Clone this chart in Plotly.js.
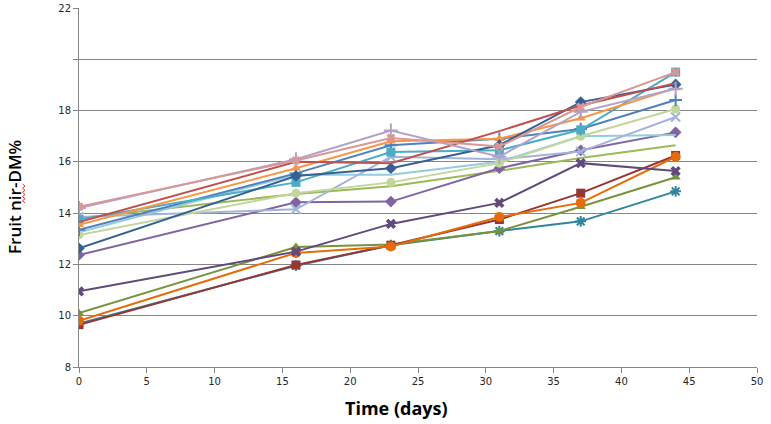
<!DOCTYPE html>
<html>
<head>
<meta charset="utf-8">
<script src="https://cdn.plot.ly/plotly-3.0.1.min.js"></script>
<style>
  html, body { margin: 0; padding: 0; background: #ffffff; }
  #chart { width: 771px; height: 424px; }
</style>
</head>
<body>
<div id="chart"></div>
<script>
// Sampling days
const days = [0, 16, 23, 31, 37, 44];

// Fruit nir-DM% per tree / sample line
const blueDiamond   = [12.63, 15.45, 15.75, 16.65, 18.33, 19.02];
const redLine       = [13.65, 16.00, 15.95, 17.20, 18.20, 19.07];
const orangeTri     = [13.55, 15.75, 16.80, 16.90, 17.70, 18.88];
const aquaSquare    = [13.75, 15.20, 16.38, 16.45, 17.25, 19.50];
const pinkX         = [14.25, 16.05, 16.93, 16.60, 18.14, 19.50];
const lilacPlus     = [14.20, 16.10, 17.22, 16.20, 17.95, 18.85];
const bluePlus      = [13.35, 15.55, 16.65, 16.90, 17.28, 18.41];
const paleGreenDot  = [13.15, 14.78, 15.20, 15.95, 17.00, 18.06];
const periwinkleX   = [13.85, 14.15, 16.20, 16.10, 16.40, 17.75];
const paleCyan      = [13.25, 15.50, 15.50, 16.00, 17.00, 17.05];
const purpleDiamond = [12.37, 14.42, 14.45, 15.75, 16.45, 17.15];
const greenLine     = [13.80, 14.75, 15.05, 15.65, 16.15, 16.65];
const plumX         = [10.95, 12.50, 13.58, 14.40, 15.95, 15.64];
const oliveTri      = [10.10, 12.68, 12.78, 13.30, 14.25, 15.40];
const maroonSquare  = [ 9.65, 11.98, 12.75, 13.75, 14.78, 16.25];
const orangeDot     = [ 9.80, 12.45, 12.70, 13.85, 14.40, 16.20];
const tealStar      = [ 9.70, 11.95, 12.75, 13.30, 13.68, 14.85];

// y-axis tick labels (the 20 line carries no label)
const yTickVals = [8, 10, 12, 14, 16, 18, 20];
const yTickText = ['8', '10', '12', '14', '16', '18', ''];
const yTopVal = [22];
const yTopText = ['22'];

function series(y, color, symbol, size, lineMarker) {
  return {
    x: days, y: y, type: 'scatter', mode: 'lines+markers',
    line: { color: color, width: 2 },
    marker: {
      color: color, symbol: symbol, size: size,
      line: { color: color, width: lineMarker ? 2 : 0 }
    },
    hoverinfo: 'x+y'
  };
}

const data = [
  series(greenLine,     '#9BBB59', 'line-ew', 1, false),
  series(purpleDiamond, '#8064A2', 'diamond', 9, false),
  series(paleCyan,      '#93CDDD', 'line-ew', 1, false),
  series(periwinkleX,   '#A3B4DC', 'x-thin-open', 9, true),
  series(paleGreenDot,  '#C3D69B', 'circle', 9, false),
  series(bluePlus,      '#4F81BD', 'cross-thin-open', 9, true),
  series(aquaSquare,    '#4BACC6', 'square', 9, false),
  series(orangeTri,     '#F79646', 'triangle-up', 9, false),
  series(blueDiamond,   '#376092', 'diamond', 9, false),
  series(redLine,       '#C0504D', 'line-ew', 1, false),
  series(lilacPlus,     '#B3A2C7', 'cross-thin-open', 10, true),
  series(pinkX,         '#D99795', 'x', 8, false),
  series(tealStar,      '#31859C', 'asterisk-open', 9, true),
  series(oliveTri,      '#77933C', 'triangle-up', 9, false),
  series(maroonSquare,  '#953735', 'square', 9, false),
  series(orangeDot,     '#E46C0A', 'circle', 10, false),
  series(plumX,         '#604A7B', 'x', 9, false)
];

const gridGrey = '#868686';
const tickFont = { family: 'DejaVu Sans, sans-serif', size: 10, color: '#262626' };

// helper for paper coordinates from plot pixel positions
const L = 79, R = 757, T = 8, B = 367;
const px = v => (v - L) / (R - L);
const py = v => (B - v) / (B - T);

// red wavy spell-check underline under "nir"
let squiggle = '';
for (let i = 0; i <= 9; i++) {
  const yy = 184 + i * 2.1;
  const xx = (i % 2 === 0) ? 22.5 : 25;
  squiggle += (i === 0 ? 'M' : 'L') + px(xx).toFixed(4) + ',' + py(yy).toFixed(4) + ' ';
}

const layout = {
  width: 771, height: 424,
  margin: { l: L, r: 771 - R, t: T, b: 424 - B },
  paper_bgcolor: '#ffffff', plot_bgcolor: '#ffffff',
  showlegend: false,
  xaxis: {
    range: [0, 50], tick0: 0, dtick: 5,
    showgrid: false, zeroline: false,
    showline: true, linecolor: gridGrey, linewidth: 1,
    ticks: 'outside', ticklen: 5, tickcolor: gridGrey,
    tickfont: tickFont
  },
  yaxis: {
    range: [8, 22], tickmode: 'array', tickvals: yTickVals, ticktext: yTickText,
    showgrid: true, gridcolor: gridGrey, gridwidth: 1, zeroline: false,
    showline: true, linecolor: gridGrey, linewidth: 1,
    ticks: 'outside', ticklen: 5, tickcolor: gridGrey,
    tickfont: tickFont
  },
  yaxis2: {
    overlaying: 'y', side: 'left', range: [8, 22],
    tickmode: 'array', tickvals: yTopVal, ticktext: yTopText,
    showgrid: false, zeroline: false, showline: false,
    ticks: 'outside', ticklen: 5, tickcolor: gridGrey,
    tickfont: tickFont
  },
  annotations: [
    {
      text: 'Time (days)', xref: 'paper', yref: 'paper',
      x: px(396), y: py(408), xanchor: 'center', yanchor: 'middle',
      showarrow: false,
      font: { family: 'Open Sans, sans-serif', size: 18, color: '#000000', weight: 'bold' }
    },
    {
      text: 'Fruit nir-DM%', xref: 'paper', yref: 'paper',
      x: px(14), y: py(197), xanchor: 'center', yanchor: 'middle',
      textangle: -90, showarrow: false,
      font: { family: 'Open Sans, sans-serif', size: 17, color: '#000000', weight: 600 }
    }
  ],
  shapes: [
    {
      type: 'path', xref: 'paper', yref: 'paper', path: squiggle,
      line: { color: '#E03030', width: 1 }
    }
  ]
};

// invisible trace that anchors the secondary y-axis used for the "22" label
data.push({ x: [0], y: [22], yaxis: 'y2', type: 'scatter', mode: 'markers',
            marker: { opacity: 0 }, hoverinfo: 'skip', showlegend: false });

Plotly.newPlot('chart', data, layout, { staticPlot: true, displayModeBar: false });
</script>
</body>
</html>
